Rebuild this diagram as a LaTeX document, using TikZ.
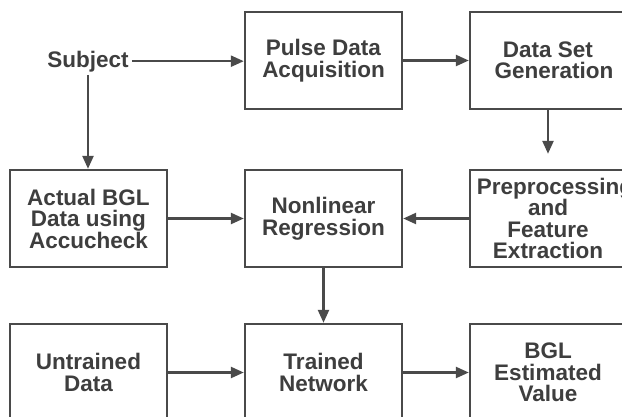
\documentclass[tikz,border=0pt]{standalone}
\usepackage{fontspec}
\setmainfont{Liberation Sans}
\usetikzlibrary{arrows.meta}
\definecolor{ink}{HTML}{3E3E3E}
\definecolor{edge}{HTML}{4A4A4A}
\begin{document}
\begin{tikzpicture}[x=1pt,y=-1pt,
  box/.style={draw=edge, line width=2.4pt, minimum width=157pt, minimum height=97pt,
    inner sep=0pt, align=center, text=ink, font=\bfseries\fontsize{22.5}{21.5}\selectfont},
  lbl/.style={text=ink, inner sep=3pt, font=\bfseries\fontsize{22.5}{21.5}\selectfont},
  conn/.style={draw=edge, line width=2.4pt, -{Triangle[length=13pt,width=11pt]}}]
\useasboundingbox (0,0) rectangle (622,416);
\fill[white] (0,0) rectangle (622,416);
\clip (0,0) rectangle (622,416);
% row 1
\node[lbl, anchor=base] (subj) at (88,67) {Subject};
\node[box] (pulse) at (323.5,60.5) {Pulse Data\\Acquisition};
\node[box, minimum width=156pt] (dset) at (548,60.5) {\makebox[140pt][c]{Data Set}\\\makebox[140pt][c]{\hspace{12pt}Generation}};
% row 2
\node[box] (actual) at (88.5,218.5) {Actual BGL\\Data using\\Accucheck};
\node[box] (nonlin) at (323.5,218.5) {Nonlinear\\Regression};
\node[box, minimum width=156pt] (prep) at (548,218.5) {\makebox[140pt][c]{\hspace{14pt}Preprocessing}\\and\\Feature\\Extraction};
% row 3
\node[box] (untr) at (88.5,372.5) {Untrained\\Data};
\node[box] (trained) at (323.5,372.5) {Trained\\Network};
\node[box, minimum width=156pt] (bgl) at (548,372.5) {BGL\\Estimated\\Value};
% connectors
\draw[conn] (subj.east) -- (pulse.west |- subj.east);
\draw[conn] (pulse.east) -- (dset.west);
\draw[conn] (subj.south) -- (actual.north -| subj.south);
\draw[conn, shorten >=15pt] (dset.south) -- (prep.north);
\draw[conn] (actual.east) -- (nonlin.west);
\draw[conn] (prep.west) -- (nonlin.east);
\draw[conn] (nonlin.south) -- (trained.north);
\draw[conn] (untr.east) -- (trained.west);
\draw[conn] (trained.east) -- (bgl.west);
\end{tikzpicture}
\end{document}
